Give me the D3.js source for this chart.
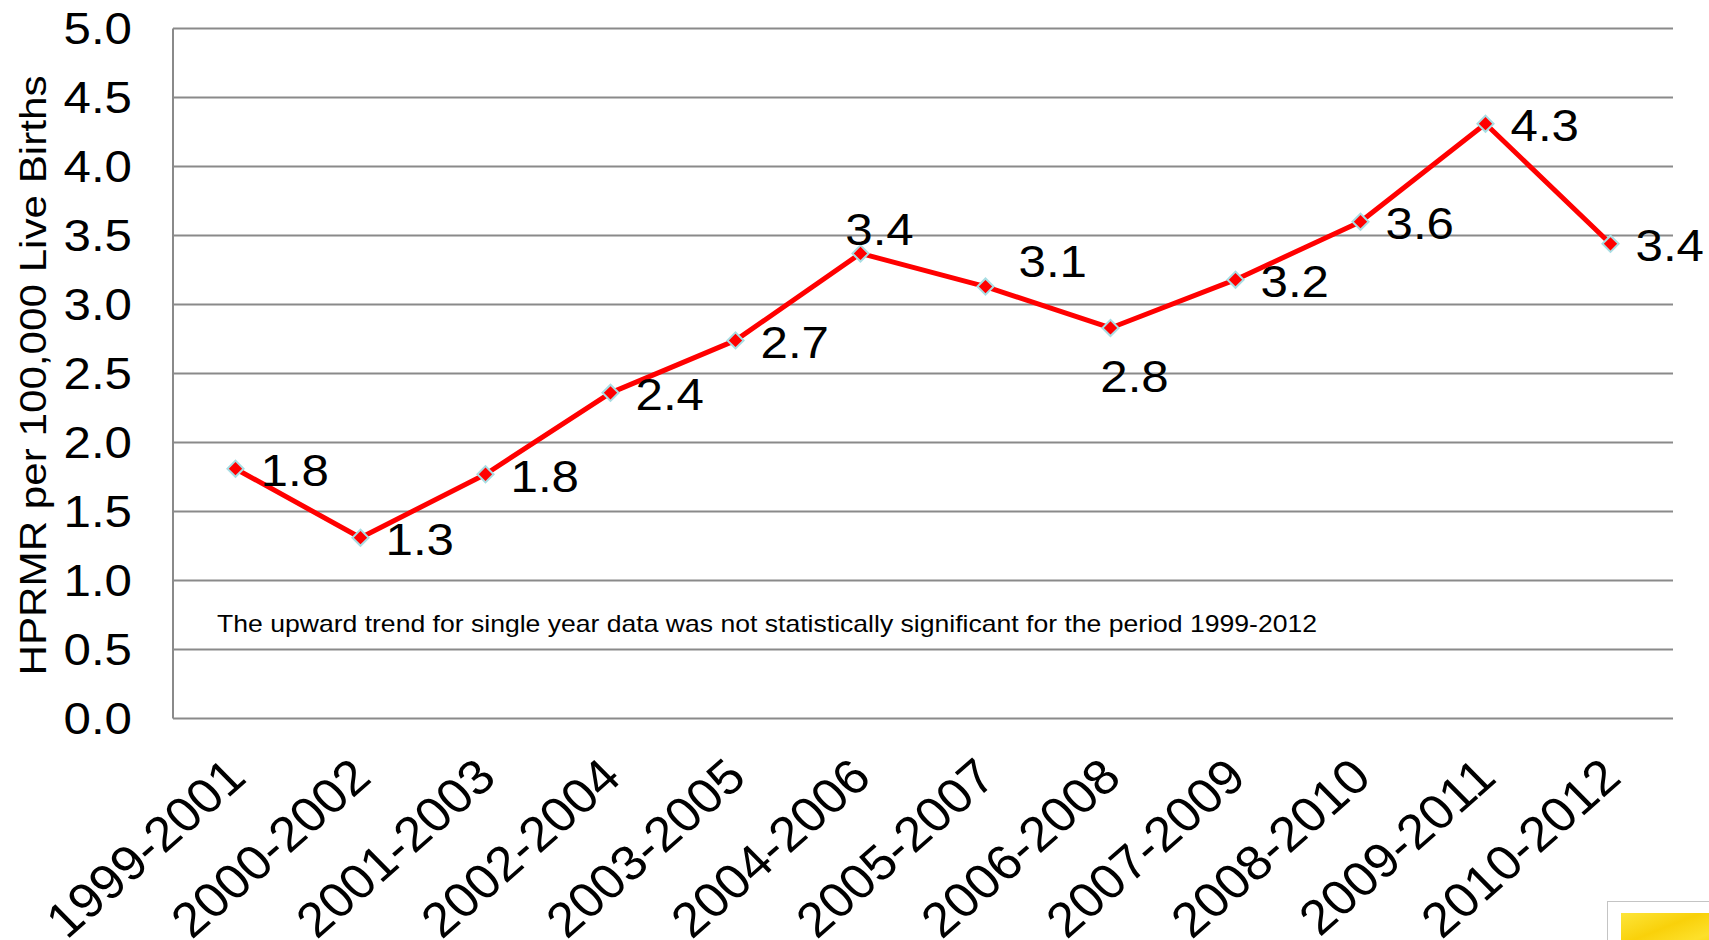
<!DOCTYPE html>
<html>
<head>
<meta charset="utf-8">
<script src="https://cdn.jsdelivr.net/npm/d3@7"></script>
<style>
  html, body { margin: 0; padding: 0; background: #ffffff; }
  svg { display: block; }
  text { font-family: "Liberation Sans", Arial, sans-serif; fill: #000; }
</style>
</head>
<body>
<svg id="chart" width="1709" height="940"></svg>
<script>
// ---- data ----
const categories = ["1999-2001","2000-2002","2001-2003","2002-2004","2003-2005","2004-2006",
                    "2005-2007","2006-2008","2007-2009","2008-2010","2009-2011","2010-2012"];
const rates = [1.81, 1.31, 1.77, 2.36, 2.74, 3.37, 3.13, 2.83, 3.18, 3.60, 4.31, 3.44];
const labelPlacement = ["right","right","right","right","right","above",
                        "aboveRight","below","right","right","right","right"];
const yTicks = [0, 0.5, 1, 1.5, 2, 2.5, 3, 3.5, 4, 4.5, 5];
const yTitle = "HPRMR per 100,000 Live Births";
const note = "The upward trend for single year data was not statistically significant for the period 1999-2012";

// ---- layout ----
const W = 1709, H = 940;
const L = 173, R = 1673, T = 28.5, B = 718.5;
const gridColor = "#8a8a8a";
const stretch = 1.12;
const xStretch = 1.06;

const svg = d3.select("#chart");

const x = d3.scalePoint().domain(categories).range([L, R]).padding(0.5);
const y = d3.scaleLinear().domain([0, 5]).range([B, T]);

// gridlines
svg.append("g").selectAll("line").data(yTicks).join("line")
  .attr("x1", L).attr("x2", R)
  .attr("y1", d => y(d)).attr("y2", d => y(d))
  .attr("stroke", gridColor).attr("stroke-width", 2);

// left axis line
svg.append("line").attr("x1", L).attr("x2", L).attr("y1", y(5)).attr("y2", y(0))
  .attr("stroke", gridColor).attr("stroke-width", 2);

// y tick labels
svg.append("g").selectAll("text").data(yTicks).join("text")
  .attr("transform", d => `translate(${L - 41},${y(d) + 15.5}) scale(${stretch},1)`)
  .attr("text-anchor", "end")
  .attr("font-size", 44)
  .text(d => d.toFixed(1));

// y axis title
svg.append("text")
  .attr("transform", `translate(46,${(T + B) / 2 + 2}) rotate(-90)`)
  .attr("text-anchor", "middle")
  .attr("font-size", 37)
  .attr("textLength", 600)
  .attr("lengthAdjust", "spacingAndGlyphs")
  .text(yTitle);

// x tick labels
svg.append("g").selectAll("text").data(categories).join("text")
  .attr("transform", d => `translate(${x(d) + 13},${B + 62}) scale(${xStretch},1) rotate(-43)`)
  .attr("text-anchor", "end")
  .attr("font-size", 49)
  .text(d => d);

// note
svg.append("text")
  .attr("x", 217).attr("y", 632)
  .attr("font-size", 24)
  .attr("textLength", 1100)
  .attr("lengthAdjust", "spacingAndGlyphs")
  .text(note);

// line
const pts = categories.map((c, i) => ({c, v: rates[i], pos: labelPlacement[i]}));
svg.append("path")
  .datum(pts)
  .attr("fill", "none")
  .attr("stroke", "#ff0000")
  .attr("stroke-width", 5)
  .attr("stroke-linejoin", "round")
  .attr("d", d3.line().x(d => x(d.c)).y(d => y(d.v)));

// markers
svg.append("g").selectAll("path").data(pts).join("path")
  .attr("transform", d => `translate(${x(d.c)},${y(d.v)}) rotate(45)`)
  .attr("d", d3.symbol(d3.symbolSquare, 130))
  .attr("fill", "#ff0000")
  .attr("stroke", "#a8dde3")
  .attr("stroke-width", 2);

// data labels
function labelTransform(d) {
  const px = x(d.c), py = y(d.v);
  switch (d.pos) {
    case "above":      return [px + 19, py - 8, "middle"];
    case "aboveRight": return [px + 33, py - 10, "start"];
    case "below":      return [px + 24, py + 64, "middle"];
    default:           return [px + 25, py + 17.5, "start"];
  }
}
svg.append("g").selectAll("text").data(pts).join("text")
  .each(function(d) {
    const [tx, ty, anchor] = labelTransform(d);
    d3.select(this)
      .attr("transform", `translate(${tx},${ty}) scale(${stretch},1)`)
      .attr("text-anchor", anchor);
  })
  .attr("font-size", 44)
  .text(d => d.v.toFixed(1));

// corner logo fragment
const defs = svg.append("defs");
const grad = defs.append("linearGradient").attr("id", "yel")
  .attr("x1", "0").attr("y1", "0").attr("x2", "1").attr("y2", "1");
grad.append("stop").attr("offset", "0%").attr("stop-color", "#fde53a");
grad.append("stop").attr("offset", "40%").attr("stop-color", "#f9d10a");
grad.append("stop").attr("offset", "70%").attr("stop-color", "#fde02a");
grad.append("stop").attr("offset", "100%").attr("stop-color", "#f7cf00");
svg.append("rect").attr("x", 1607.5).attr("y", 901.5).attr("width", 120).attr("height", 60)
  .attr("fill", "#ffffff").attr("stroke", "#c4c4c4").attr("stroke-width", 1);
svg.append("rect").attr("x", 1621).attr("y", 913).attr("width", 100).attr("height", 40)
  .attr("fill", "url(#yel)");
</script>
</body>
</html>
